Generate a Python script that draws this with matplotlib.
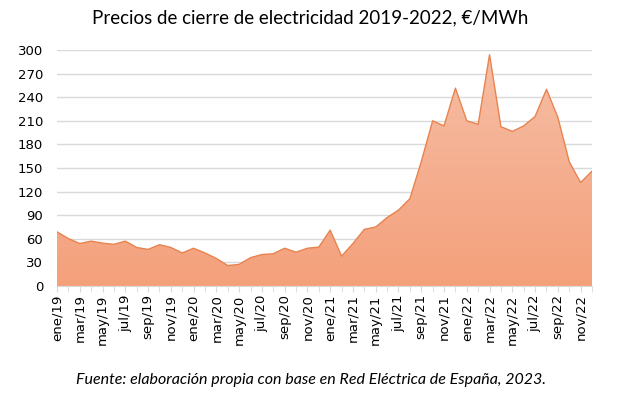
import numpy as np
import matplotlib
matplotlib.use("Agg")
import matplotlib.pyplot as plt
from matplotlib.colors import LinearSegmentedColormap

# ── Data: monthly closing electricity prices, €/MWh ────────────────────────────
months_es = ["ene", "feb", "mar", "abr", "may", "jun",
             "jul", "ago", "sep", "oct", "nov", "dic"]
years = [19, 20, 21, 22]
labels = [f"{m}/{y}" for y in years for m in months_es]

price_2019 = [68.8, 60.3, 54.0, 57.0, 54.5, 53.0, 57.0, 49.0, 46.5, 52.5, 49.0, 42.0]
price_2020 = [48.0, 42.0, 35.0, 26.0, 27.5, 36.0, 40.0, 41.0, 48.0, 43.0, 48.0, 49.5]
price_2021 = [71.0, 38.0, 54.0, 72.0, 75.0, 87.0, 96.5, 111.0, 158.0, 210.0, 203.5, 251.5]
price_2022 = [210.0, 205.5, 294.0, 202.5, 196.5, 203.5, 215.5, 250.0, 214.5, 158.0, 131.5, 146.0]
price = np.array(price_2019 + price_2020 + price_2021 + price_2022)

x = np.arange(len(price))

fig = plt.figure(figsize=(6.33, 3.98), dpi=100)
ax = fig.add_axes([57 / 633, 1 - 286 / 398, (592 - 57) / 633, (286 - 50) / 398])

ax.set_xlim(0, len(price) - 1)
ax.set_ylim(0, 300)

# gradient fill clipped to the area under the curve
cmap = LinearSegmentedColormap.from_list("peach", ["#f4a07b", "#f6bea5"])
grad = np.linspace(0, 1, 256).reshape(-1, 1)
img = ax.imshow(grad, extent=[0, len(price) - 1, 0, price.max()], origin="lower",
                aspect="auto", cmap=cmap, zorder=2)
poly = ax.fill_between(x, price, 0, color="none", lw=0)
clip = poly.get_paths()[0]
img.set_clip_path(clip, transform=ax.transData)
ax.plot(x, price, color="#e8834f", lw=1.0, zorder=3)

ax.set_yticks(np.arange(0, 301, 30))
ax.yaxis.grid(True, color="#d9d9d9", lw=1.0, zorder=0)
ax.set_axisbelow(True)

ax.set_xticks(x[::2])
ax.set_xticklabels(labels[::2], rotation=90, fontsize=9.5)
ax.set_xticks(x, minor=True)
ax.tick_params(axis="x", which="both", length=4, color="#d9d9d9", pad=2)
ax.tick_params(axis="y", length=0, labelsize=9.5, pad=10)

for side in ["top", "right", "left"]:
    ax.spines[side].set_visible(False)
ax.spines["bottom"].set_color("#d9d9d9")

fig.text(0.49, 0.955, "Precios de cierre de electricidad 2019-2022, €/MWh",
         ha="center", va="center", fontsize=13.5, family="Lato")
fig.text(0.492, 0.045, "Fuente: elaboración propia con base en Red Eléctrica de España, 2023.",
         ha="center", va="center", fontsize=11.5, style="italic", family="Lato")

fig.savefig("out.png", dpi=100)
